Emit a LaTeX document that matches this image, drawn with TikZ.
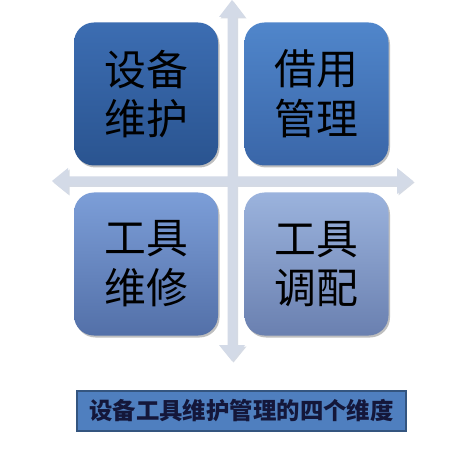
\documentclass[tikz,border=0pt]{standalone}
\usepackage{fontspec}
\newfontfamily\cjk{Noto Sans CJK SC}
\usetikzlibrary{shadows}
\definecolor{arrowc}{HTML}{D3DAE7}
\definecolor{arrowsh}{HTML}{B9C2D2}
\definecolor{tlT}{HTML}{3C6DB2}\definecolor{tlB}{HTML}{2A5490}
\definecolor{trT}{HTML}{5086CB}\definecolor{trB}{HTML}{3A66A8}
\definecolor{blT}{HTML}{7C9ED8}\definecolor{blB}{HTML}{5370A8}
\definecolor{brT}{HTML}{9BB3DD}\definecolor{brB}{HTML}{6A80B0}
\definecolor{capfill}{HTML}{4F7FBF}
\definecolor{capdraw}{HTML}{34557F}
\definecolor{captext}{HTML}{14173A}
\tikzset{
  quad/.style={rounded corners=20bp, minimum width=144bp, minimum height=143bp,
    inner sep=0pt, align=center, text=black,
    font=\cjk\fontsize{42}{50}\selectfont,
    drop shadow={shadow xshift=1.5bp, shadow yshift=-2bp, fill=black, opacity=0.25}},
  capbox/.style={draw=capdraw, line width=1.6bp, fill=capfill,
    minimum width=329bp, minimum height=40bp, inner sep=0pt,
    text=captext, font=\cjk\bfseries\fontsize{23.5}{27}\selectfont},
  crossshape/.style={fill=arrowc}
}
\begin{document}
\begin{tikzpicture}[x=1bp,y=-1bp]
\useasboundingbox (0,0) rectangle (473,462);
\fill[white] (0,0) rectangle (473,462);
% cross shadow
\fill[arrowsh, opacity=0.6, shift={(1.5,1.5)}]
  (232,0) -- (245,17) -- (236.5,17) -- (236.5,176.5) -- (397,176.5) -- (397,168)
  -- (413,181) -- (397,194) -- (397,185.5) -- (236.5,185.5) -- (236.5,345)
  -- (245,345) -- (232,361) -- (219,345) -- (227.5,345) -- (227.5,185.5)
  -- (68,185.5) -- (68,194) -- (52,181) -- (68,168) -- (68,176.5)
  -- (227.5,176.5) -- (227.5,17) -- (219,17) -- cycle;
% cross
\fill[crossshape]
  (232,0) -- (245,17) -- (236.5,17) -- (236.5,176.5) -- (397,176.5) -- (397,168)
  -- (413,181) -- (397,194) -- (397,185.5) -- (236.5,185.5) -- (236.5,345)
  -- (245,345) -- (232,361) -- (219,345) -- (227.5,345) -- (227.5,185.5)
  -- (68,185.5) -- (68,194) -- (52,181) -- (68,168) -- (68,176.5)
  -- (227.5,176.5) -- (227.5,17) -- (219,17) -- cycle;
% quadrants
\node[quad, top color=tlT, bottom color=tlB] (tl) at (146,94) {设备\\维护};
\node[quad, top color=trT, bottom color=trB] (tr) at (316.5,94) {借用\\管理};
\node[quad, top color=blT, bottom color=blB] (bl) at (146,264) {工具\\维修};
\node[quad, top color=brT, bottom color=brB] (br) at (316.5,264) {工具\\调配};
% caption
\node[capbox] (cap) at (241.5,411) {设备工具维护管理的四个维度};
\end{tikzpicture}
\end{document}
